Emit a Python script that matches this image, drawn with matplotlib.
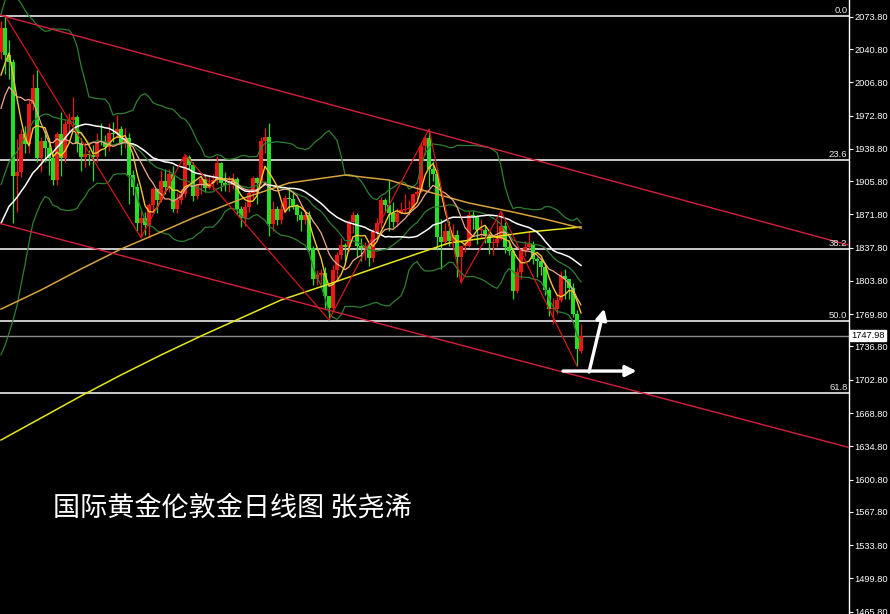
import matplotlib
matplotlib.use("Agg")
import matplotlib.pyplot as plt
import matplotlib.transforms as mtransforms
import numpy as np
import pandas as pd

# closes before the first visible candle (only used to warm up the moving averages)
prior_close = [1761, 1764, 1771, 1772, 1781, 1770, 1775, 1775, 1784, 1795,
               1809, 1803, 1798, 1802, 1810, 1807, 1796, 1810, 1818, 1842,
               1871, 1889, 1902, 1942, 1958, 1971, 1958, 1975, 1976, 2019, 2039]

# daily candles, Aug 2020 -> Mar 2021
open_ = [2038, 2062, 2035, 2028, 1911, 1915, 1954, 1944, 1985, 2001,
         1929, 1947, 1940, 1929, 1907, 1954, 1929, 1964,
         1968, 1971, 1944, 1930, 1934, 1932, 1930, 1947, 1946, 1941,
         1955, 1954, 1959, 1944, 1950, 1912, 1900, 1863, 1868, 1861,
         1881, 1898,
         1886, 1906, 1900, 1913, 1877, 1887, 1893, 1930, 1922, 1891,
         1902, 1908, 1899, 1904, 1907, 1924, 1904, 1902, 1902, 1908,
         1877, 1868,
         1879, 1894, 1909, 1904, 1947, 1951, 1862, 1877, 1866, 1877,
         1889, 1888, 1880, 1871, 1866, 1871, 1837, 1806, 1810, 1812,
         1788,
         1776, 1815, 1830, 1841, 1838, 1864, 1871, 1839, 1837, 1840,
         1827, 1854, 1863, 1887, 1881, 1873, 1864, 1873, 1876, 1877,
         1878, 1893,
         1895, 1942, 1950, 1918, 1913, 1849, 1844, 1855, 1845, 1851,
         1828, 1840, 1840, 1871, 1870, 1856, 1856, 1850, 1843, 1843,
         1847, 1860, 1838, 1834, 1793, 1813, 1834, 1838, 1842, 1826,
         1824, 1818, 1795, 1775, 1775, 1784, 1809, 1806, 1797, 1770,
         1732]
high = [2069, 2075, 2050, 2031, 1949, 1959, 1962, 1989, 2015, 2019,
        1951, 1957, 1950, 1935, 1956, 1976, 1968, 1975,
        1992, 1973, 1950, 1946, 1938, 1943, 1955, 1965, 1953, 1965,
        1966, 1973, 1962, 1960, 1955, 1917, 1904, 1875, 1874, 1883,
        1900, 1899,
        1917, 1918, 1918, 1921, 1895, 1898, 1933, 1933, 1925, 1903,
        1912, 1913, 1912, 1913, 1931, 1925, 1915, 1911, 1914, 1910,
        1880, 1884,
        1897, 1911, 1910, 1951, 1960, 1965, 1885, 1880, 1882, 1892,
        1900, 1895, 1882, 1875, 1877, 1875, 1839, 1815, 1816, 1818,
        1788,
        1820, 1833, 1848, 1843, 1866, 1875, 1873, 1848, 1844, 1842,
        1857, 1868, 1890, 1889, 1907, 1884, 1878, 1884, 1893, 1886,
        1894, 1901,
        1945, 1952, 1959, 1926, 1917, 1867, 1863, 1865, 1862, 1856,
        1840, 1845, 1875, 1875, 1871, 1867, 1861, 1853, 1848, 1866,
        1875, 1864, 1846, 1837, 1817, 1836, 1845, 1855, 1845, 1828,
        1826, 1822, 1798, 1786, 1790, 1814, 1816, 1806, 1802, 1774,
        1760]
low = [2031, 2015, 2010, 1863, 1874, 1910, 1935, 1935, 1978, 1925,
       1915, 1925, 1912, 1902, 1902, 1911, 1925, 1955,
       1960, 1936, 1916, 1920, 1922, 1906, 1925, 1943, 1931, 1937,
       1946, 1950, 1933, 1940, 1882, 1892, 1855, 1848, 1851, 1848,
       1873, 1873,
       1884, 1893, 1895, 1874, 1873, 1882, 1890, 1917, 1885, 1888,
       1893, 1895, 1898, 1897, 1903, 1896, 1896, 1895, 1898, 1872,
       1859, 1860,
       1874, 1888, 1882, 1903, 1935, 1850, 1855, 1861, 1862, 1873,
       1875, 1877, 1865, 1855, 1862, 1834, 1800, 1800, 1801, 1775,
       1764,
       1773, 1804, 1826, 1823, 1834, 1853, 1828, 1824, 1825, 1819,
       1823, 1850, 1858, 1874, 1855, 1859, 1860, 1872, 1873, 1871,
       1876, 1887,
       1895, 1932, 1900, 1906, 1835, 1816, 1841, 1840, 1836, 1808,
       1802, 1833, 1838, 1857, 1842, 1848, 1843, 1831, 1830, 1838,
       1846, 1832, 1830, 1785, 1791, 1806, 1829, 1836, 1821, 1808,
       1810, 1789, 1768, 1760, 1770, 1782, 1785, 1785, 1767, 1717,
       1730]
close = [2062, 2035, 2028, 1911, 1915, 1954, 1944, 1985, 2001, 1929,
         1947, 1940, 1929, 1907, 1954, 1929, 1964, 1968,
         1971, 1944, 1930, 1934, 1932, 1930, 1947, 1946, 1941, 1955,
         1954, 1959, 1944, 1950, 1912, 1900, 1863, 1868, 1861, 1881,
         1898, 1886,
         1906, 1900, 1913, 1877, 1887, 1893, 1930, 1922, 1891, 1902,
         1908, 1899, 1904, 1907, 1924, 1904, 1902, 1902, 1908, 1877,
         1868, 1879,
         1894, 1909, 1904, 1947, 1951, 1862, 1877, 1866, 1877, 1889,
         1888, 1880, 1871, 1866, 1871, 1837, 1806, 1810, 1812, 1788,
         1776,
         1815, 1830, 1841, 1838, 1864, 1871, 1839, 1837, 1840, 1827,
         1854, 1863, 1887, 1881, 1873, 1864, 1873, 1876, 1877, 1878,
         1893, 1895,
         1942, 1950, 1918, 1913, 1849, 1844, 1855, 1845, 1851, 1828,
         1840, 1840, 1871, 1870, 1856, 1856, 1850, 1843, 1843, 1847,
         1860, 1838, 1834, 1793, 1813, 1834, 1838, 1842, 1826, 1824,
         1818, 1795, 1775, 1775, 1784, 1809, 1806, 1797, 1770, 1734,
         1747.98]

# slow averages (candle index, price)
ma100_idx = [0, 10, 20, 30, 40, 48, 60, 72, 86, 97, 107, 117, 128, 137, 145]
ma100_val = [1775.0, 1794.5, 1816.0, 1836.4, 1853.8, 1868.1, 1887.5, 1903.9,
             1912.0, 1906.9, 1894.7, 1883.4, 1874.2, 1866.0, 1857.8]
ma200_idx = [0, 10, 20, 30, 40, 50, 60, 70, 82, 95, 112, 132, 145]
ma200_val = [1641.2, 1663.7, 1686.2, 1707.7, 1728.1, 1747.5, 1765.9, 1784.3,
             1800.6, 1819.0, 1842.6, 1853.8, 1858.9]

# swing points of the zigzag (candle index, 'H' high / 'L' low)
zz_idx = [1, 35, 46, 82, 107, 115, 125, 144]
zz_kind = ["H", "L", "H", "L", "H", "L", "H", "L"]

# hand drawn channel (candle index, price)
chan_idx = [-0.25, 212]
chan_upper = [2075.5, 1840.4]
chan_lower = [1862.5, 1633.6]

# fibonacci retracement from the 2075 high to the 1451 low
fib_high, fib_low = 2074.4, 1451.0
fib_ratios = [0.0, 0.236, 0.382, 0.5, 0.618]
fib_labels = ["0.0", "23.6", "38.2", "50.0", "61.8"]

yticks = [2073.80, 2040.80, 2006.80, 1972.80, 1938.80, 1905.80, 1871.80,
          1837.80, 1803.80, 1769.80, 1736.80, 1702.80, 1668.80, 1634.80,
          1600.80, 1567.80, 1533.80, 1499.80, 1465.80]

# hand drawn arrows (candle index, price)
arrow_right = [(140.5, 1711.7), (158.9, 1711.7)]
arrow_up = [(147.0, 1710.7), (150.8, 1775.5)]

title = "国际黄金伦敦金日线图 张尧浠"

# ---------------------------------------------------------------
RED, GREEN = "#f01414", "#22e022"

fig = plt.figure(figsize=(8.9, 6.14), dpi=100, facecolor="black")
ax = fig.add_axes([0, 0, 849 / 890, 1])
ax.set_facecolor("black")

n = len(close)
idx = np.arange(n)
o, h, l, c = map(np.array, (open_, high, low, close))

# indicators
allc = pd.Series(prior_close + close, dtype=float)
k = len(prior_close)
ma5 = allc.rolling(5).mean().values[k:]
ma10 = allc.rolling(10).mean().values[k:]
ma30 = allc.rolling(30).mean().values[k:]
mid = allc.rolling(20).mean()
sd = allc.rolling(20).std(ddof=0)
bb_up = (mid + 2 * sd).values[k:]
bb_lo = (mid - 2 * sd).values[k:]
bb_mid = mid.values[k:]

# fibonacci + current price line
for r, lab in zip(fib_ratios, fib_labels):
    lev = fib_high - r * (fib_high - fib_low)
    ax.axhline(lev, color="white", lw=1.1, zorder=1)
    ax.text(211.6, lev + 1.5, lab, color="#e8e8e8", fontsize=6.8,
            family="Liberation Sans", ha="right", va="bottom", zorder=6)
ax.axhline(c[-1], color="#8c8c8c", lw=1.0, zorder=1)

# candles
up = c >= o
cols = np.where(up, RED, GREEN)
ax.vlines(idx, l, h, colors=cols, lw=0.9, zorder=2)
ax.bar(idx, np.maximum(np.abs(c - o), 0.8), bottom=np.minimum(o, c),
       width=0.8, color=cols, linewidth=0, zorder=2)

# bands and averages
for band in (bb_up, bb_mid, bb_lo):
    ax.plot(idx, band, color="#2f7f2f", lw=0.9, zorder=3)
ax.plot(ma200_idx, ma200_val, color="#e6e619", lw=1.1, zorder=3)
ax.plot(ma100_idx, ma100_val, color="#d6a23c", lw=1.1, zorder=3)
ax.plot(idx, ma30, color="white", lw=1.1, zorder=3)
ax.plot(idx, ma10, color="#f2a98c", lw=0.9, zorder=3)
ax.plot(idx, ma5, color="#f5c431", lw=1.0, zorder=3)

# zigzag and channel
zz_val = [h[i] if kd == "H" else l[i] for i, kd in zip(zz_idx, zz_kind)]
ax.plot(zz_idx, zz_val, color="#d01818", lw=0.9, zorder=4)
ax.plot(chan_idx, chan_upper, color="#d4203c", lw=1.0, zorder=4)
ax.plot(chan_idx, chan_lower, color="#d4203c", lw=1.0, zorder=4)

# arrows
for (x0, y0), (x1, y1) in (arrow_right, arrow_up):
    ax.annotate("", xy=(x1, y1), xytext=(x0, y0), zorder=7,
                arrowprops=dict(arrowstyle="-|>", color="white", lw=2.4,
                                mutation_scale=16, shrinkA=0, shrinkB=0))

# axes
ax.set_xlim(-0.25, 212)
ax.set_ylim(1463.4, 2090.9)
ax.set_xticks([])
ax.yaxis.tick_right()
ax.set_yticks(yticks)
ax.set_yticklabels([f"{v:.2f}" for v in yticks])
ax.tick_params(axis="y", colors="white", length=3, width=0.8, pad=1,
               labelsize=6.7)
for lab in ax.get_yticklabels():
    lab.set_family("Liberation Sans")
for side in ("top", "left", "bottom"):
    ax.spines[side].set_visible(False)
ax.spines["right"].set_color("white")
ax.spines["right"].set_linewidth(1.0)

# current price tag
trans = mtransforms.blended_transform_factory(ax.transAxes, ax.transData)
ax.text(1.003, c[-1], f"{c[-1]:.2f}", transform=trans, color="black",
        fontsize=6.7, family="Liberation Sans", ha="left", va="center",
        bbox=dict(boxstyle="square,pad=0.12", fc="white", ec="white"),
        zorder=8, clip_on=False)

fig.text(53 / 890, 1 - 508 / 614, title, color="white", fontsize=19.5,
         family=["Noto Sans CJK SC", "DejaVu Sans"], va="center", ha="left")

fig.savefig("out.png", dpi=100, facecolor="black")
